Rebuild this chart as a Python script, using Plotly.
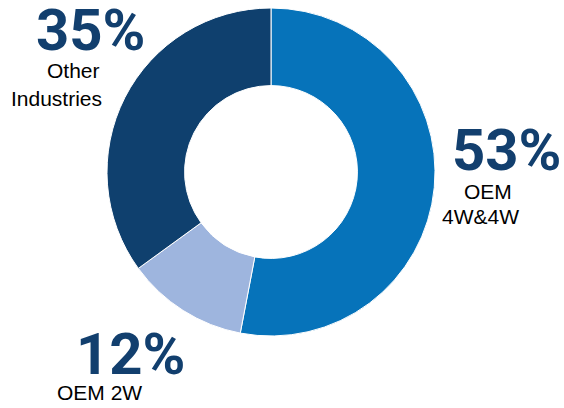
import plotly.graph_objects as go

labels = ["OEM 4W&4W", "OEM 2W", "Other Industries"]
values = [53, 12, 35]
colors = ["#0673BA", "#9EB5DE", "#0F406E"]
pct_text = ["53%", "12%", "35%"]

W, H = 564, 408

fig = go.Figure(go.Pie(
    labels=labels, values=values, hole=0.527, sort=False,
    direction="clockwise", rotation=0,
    marker=dict(colors=colors, line=dict(color="white", width=1)),
    textinfo="none", hoverinfo="label+percent", showlegend=False,
    domain=dict(x=[107 / W, 435 / W], y=[1 - 336 / H, 1 - 8 / H]),
))

big = dict(family="Roboto, Liberation Sans, Arial", size=58, color="#123F6E")
small = dict(family="Liberation Sans, Arial", size=21, color="#000000")

def ann(text, x, y, font):
    fig.add_annotation(text=text, x=x / W, y=1 - y / H, xref="paper", yref="paper",
                       showarrow=False, xanchor="center", yanchor="middle", font=font)

ann("<b>" + pct_text[2] + "</b>", 90, 30, big)
ann("Other", 73, 70, small)
ann("Industries", 56, 98, small)
ann("<b>" + pct_text[0] + "</b>", 506, 150, big)
ann("OEM", 488, 191, small)
ann("4W&4W", 480, 216, small)
ann("<b>" + pct_text[1] + "</b>", 130, 354, big)
ann("OEM 2W", 99, 392, small)

fig.update_layout(width=W, height=H, margin=dict(l=0, r=0, t=0, b=0),
                  paper_bgcolor="white", plot_bgcolor="white")
fig.write_html("out.html", config={"displayModeBar": False},
               post_script="document.body.style.margin='0';")
